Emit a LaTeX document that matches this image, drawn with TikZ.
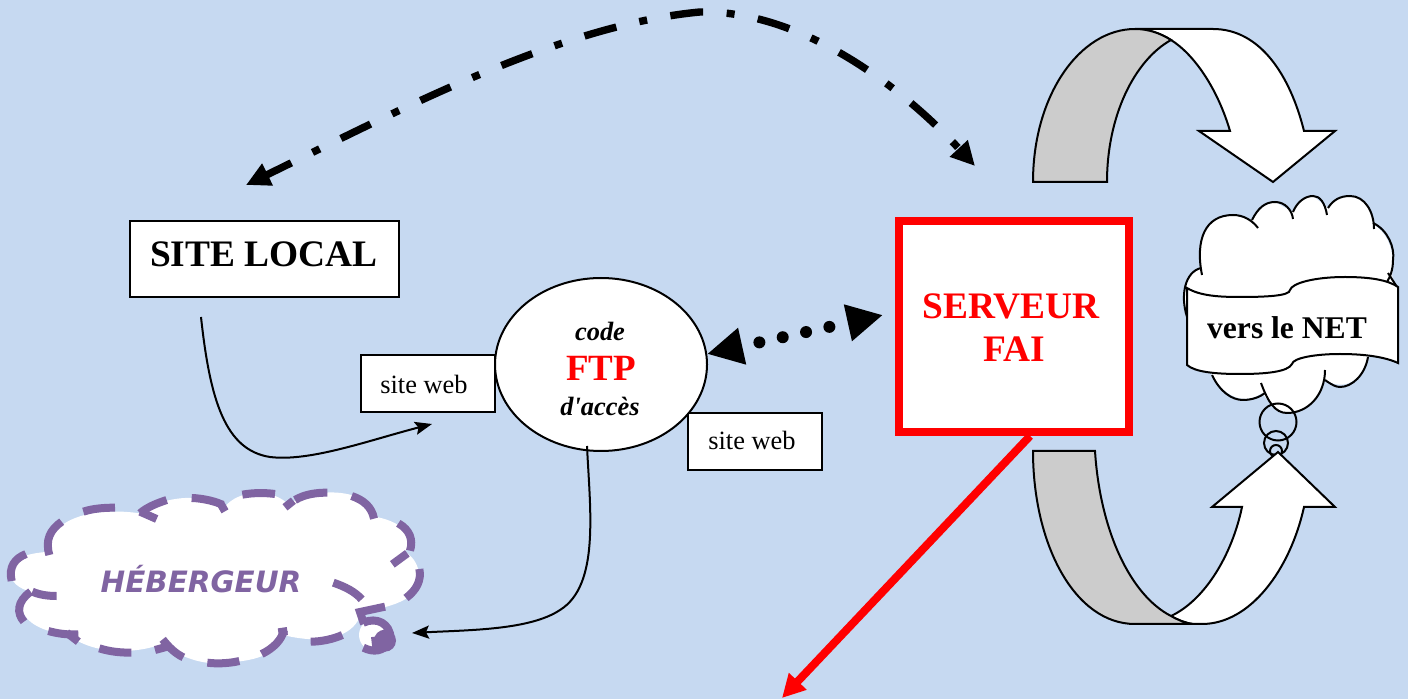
\documentclass[tikz,border=0pt]{standalone}
\usepackage{fontspec}
\setmainfont{Liberation Serif}
\newfontfamily\hebfont{DejaVu Sans}
\usetikzlibrary{arrows.meta,shapes.geometric}
\definecolor{bgblue}{HTML}{C6D9F1}
\definecolor{purp}{HTML}{8064A2}
\definecolor{greyfold}{HTML}{CCCCCC}
\newcommand{\fs}[1]{\fontsize{#1}{#1}\selectfont}
\tikzset{
  wbox/.style={draw=black,fill=white,line width=1pt,inner sep=0pt},
  thinline/.style={line width=1pt,black},
  smallhead/.style={-{Stealth[length=8.5pt,width=6.5pt,inset=1.5pt]}},
  ribbon/.style={draw=black,line width=1pt,line join=miter},
  hd/.style={draw=purp,line width=4pt},
}
\begin{document}
\begin{tikzpicture}[x=0.5pt,y=-0.5pt]
\useasboundingbox (0,0) rectangle (1408,699);
\fill[bgblue] (0,0) rectangle (1408,699);

% --- top curved arrow
\draw[ribbon,fill=white] (1135,29) -- (1213,29) .. controls (1260,29) and (1290,75) .. (1304,131) -- (1335,131) -- (1273,182) -- (1199,131) -- (1230,131) .. controls (1218,90) and (1195,55) .. (1171,40) .. controls (1160,33) and (1148,29) .. (1135,29) -- cycle;
\draw[ribbon,fill=greyfold] (1033,182) .. controls (1033,95) and (1080,29) .. (1135,29) .. controls (1148,29) and (1160,33) .. (1171,40) .. controls (1135,60) and (1107,115) .. (1107,182) -- cycle;

% --- thought cloud
\path[fill=white] (1202,275) .. controls (1195,240) and (1205,215) .. (1233,215) -- (1252,220) .. controls (1258,208) and (1265,202) .. (1275,202) -- (1293,212) .. controls (1297,202) and (1305,196) .. (1313,196) -- (1328,208) .. controls (1333,200) and (1340,196) .. (1350,196) .. controls (1365,196) and (1374,212) .. (1374,225) .. controls (1390,235) and (1395,255) .. (1392,275) -- (1398,300) -- (1368,357) .. controls (1362,380) and (1345,392) .. (1325,380) .. controls (1318,405) and (1300,415) .. (1287,413) .. controls (1275,412) and (1268,400) .. (1262,393) .. controls (1245,405) and (1225,398) .. (1212,375) -- (1187,320) .. controls (1180,300) and (1183,275) .. (1201,268) -- cycle;
\draw[ribbon] (1202,275) .. controls (1195,240) and (1205,215) .. (1233,215) .. controls (1243,215) and (1252,220) .. (1258,228);
\draw[ribbon] (1252,220) .. controls (1258,208) and (1265,202) .. (1275,202) .. controls (1285,202) and (1292,210) .. (1293,219);
\draw[ribbon] (1293,212) .. controls (1297,202) and (1305,196) .. (1313,196) .. controls (1320,196) and (1325,203) .. (1327,215);
\draw[ribbon] (1328,208) .. controls (1333,200) and (1340,196) .. (1350,196) .. controls (1365,196) and (1374,212) .. (1374,229);
\draw[ribbon] (1373,223) .. controls (1388,230) and (1395,248) .. (1393,260) .. controls (1393,270) and (1390,277) .. (1387,282);
\draw[ribbon] (1388,273) -- (1397,287);
\draw[ribbon] (1201,268) .. controls (1185,272) and (1180,295) .. (1187,317);
\draw[ribbon] (1212,375) .. controls (1220,392) and (1232,400) .. (1243,400) .. controls (1252,400) and (1260,397) .. (1265,393);
\draw[ribbon] (1261,383) .. controls (1268,402) and (1275,413) .. (1287,413) .. controls (1308,413) and (1325,395) .. (1325,370);
\draw[ribbon] (1325,380) .. controls (1332,385) and (1336,387) .. (1340,387) .. controls (1352,387) and (1365,375) .. (1368,357);
\draw[thinline] (1278,422) circle (18.5);
\draw[thinline] (1276,443) circle (12);
\draw[thinline] (1276,451) circle (6);
% scroll banner
\draw[ribbon,fill=white] (1187,288) .. controls (1200,296) and (1220,297) .. (1240,297) .. controls (1265,297) and (1290,296) .. (1290,290) .. controls (1292,283) and (1315,277) .. (1345,277) .. controls (1370,277) and (1388,280) .. (1398,287) -- (1398,363) .. controls (1385,357) and (1365,354) .. (1340,354) .. controls (1315,354) and (1293,358) .. (1292,364) .. controls (1288,372) and (1265,374) .. (1240,374) .. controls (1215,374) and (1195,372) .. (1187,365) -- cycle;
\node (net) at (1287,328) {\fs{15.8}\bfseries vers le NET};

% --- bottom curved arrow
\draw[ribbon,fill=white] (1135,624) -- (1202,624) .. controls (1250,624) and (1290,570) .. (1304,507) -- (1335,507) -- (1278,452) -- (1212,507) -- (1242,507) .. controls (1232,555) and (1205,600) .. (1171,616) .. controls (1178,620) and (1185,623) .. (1193,624);
\draw[ribbon,fill=greyfold] (1033,451) -- (1095,451) .. controls (1100,530) and (1130,595) .. (1171,616) .. controls (1178,620) and (1185,623) .. (1193,624) -- (1135,624) .. controls (1075,624) and (1033,545) .. (1033,451) -- cycle;

% --- hebergeur cloud
\begin{scope}[yshift=-235pt,x=0.16667pt,y=-0.16667pt]
\fill[white] (150,245) .. controls (135,170) and (240,105) .. (420,130) .. controls (470,85) and (610,60) .. (670,115) .. controls (720,50) and (830,60) .. (865,105) .. controls (930,50) and (1110,50) .. (1125,140) .. controls (1230,160) and (1240,215) .. (1215,245) .. controls (1270,280) and (1270,350) .. (1220,385) .. controls (1180,410) and (1120,420) .. (1080,425) -- (1075,450) .. controls (1040,510) and (950,520) .. (850,495) .. controls (830,570) and (720,580) .. (620,578) .. controls (560,570) and (510,540) .. (490,520) .. controls (420,550) and (280,560) .. (200,490) .. controls (140,490) and (70,460) .. (65,410) .. controls (62,395) and (70,375) .. (90,365) .. controls (60,355) and (30,340) .. (30,300) .. controls (30,270) and (70,250) .. (150,245) -- cycle;
\fill[white] (1125,495) circle (48);
\draw[hd] (35,333) .. controls (25,290) and (45,265) .. (78,252);
\draw[hd] (148,255) .. controls (135,210) and (150,180) .. (185,155);
\draw[hd] (250,125) .. controls (280,115) and (315,113) .. (345,113);
\draw[hd] (500,90) .. controls (470,100) and (440,112) .. (420,130);
\draw[hd] (420,125) -- (470,147);
\draw[hd] (575,84) .. controls (610,85) and (650,95) .. (668,105);
\draw[hd] (660,98) -- (675,124);
\draw[hd] (727,74) .. controls (760,68) and (795,68) .. (825,72);
\draw[hd] (855,112) -- (880,92);
\draw[hd] (885,90) .. controls (915,72) and (950,68) .. (982,68);
\draw[hd] (1055,78) .. controls (1090,90) and (1115,110) .. (1122,146);
\draw[hd] (1195,160) .. controls (1230,180) and (1240,210) .. (1230,242);
\draw[hd] (1177,283) -- (1222,250);
\draw[hd] (1258,297) .. controls (1265,330) and (1250,360) .. (1218,384);
\draw[hd] (1000,338) .. controls (1035,350) and (1065,365) .. (1085,388);
\draw[hd] (1155,410) -- (1080,426) -- (1092,462);
\draw[hd] (1090,458) .. controls (1130,440) and (1170,460) .. (1172,505);
\draw[hd] (1090,533) .. controls (1120,548) and (1150,545) .. (1170,515);
\draw[hd] (1125,500) -- (1130,542);
\fill[purp] (1155,512) circle (33);
\draw[hd] (932,515) .. controls (965,515) and (1000,507) .. (1027,495);
\draw[hd] (785,552) .. controls (820,535) and (845,510) .. (852,480);
\draw[hd] (835,487) -- (862,483);
\draw[hd] (622,578) .. controls (650,582) and (690,580) .. (718,573);
\draw[hd] (550,562) .. controls (525,550) and (505,530) .. (488,508);
\draw[hd] (465,540) -- (502,530);
\draw[hd] (298,535) .. controls (330,545) and (360,548) .. (394,548);
\draw[hd] (145,483) .. controls (170,490) and (200,495) .. (235,493);
\draw[hd] (200,488) -- (235,515);
\draw[hd] (72,455) .. controls (50,430) and (50,395) .. (92,365);
\draw[hd] (97,365) .. controls (120,375) and (145,378) .. (170,378);
\end{scope}
\node[text=purp] (heb) at (201,579.5) {\fs{14.7}\hebfont\bfseries\itshape HÉBERGEUR};

% --- nodes
\node[wbox,minimum width=134.5pt,minimum height=38pt] (local) at (264.5,259) {};
\node at (264,254) {\fs{18.7}\bfseries SITE LOCAL};
\node[wbox,minimum width=67pt,minimum height=28.5pt] (web1) at (428,383.5) {};
\node at (424,384) {\fs{13.2}site web};
\node[wbox,minimum width=67pt,minimum height=28.5pt] (web2) at (755,441.5) {};
\node at (752,440) {\fs{13.2}site web};
\node[draw=black,fill=white,line width=1pt,ellipse,minimum width=106pt,minimum height=86.5pt,inner sep=0pt] (ftp) at (601,364.5) {};
\node at (600,331) {\fs{13.2}\bfseries\itshape code};
\node[text=red] at (601,368) {\fs{18.5}\bfseries FTP};
\node at (600,406) {\fs{13.2}\bfseries\itshape d\textquotesingle accès};
\node[draw=red,fill=white,line width=4pt,minimum width=115pt,minimum height=105.5pt,inner sep=0pt] (srv) at (1014,326.5) {};
\node[text=red] at (1011,306) {\fs{18.7}\bfseries SERVEUR};
\node[text=red] at (1014,349) {\fs{18.7}\bfseries FAI};

% --- connector ends
\coordinate (topL) at (246,185);
\coordinate (topR) at (975,166);
\coordinate (a1) at (201,317);
\coordinate (a2) at (432,424);
\coordinate (b1) at (587,446);
\coordinate (b2) at (412,633);
\coordinate (dotL) at (707,354);
\coordinate (dotR) at (883,315);
\coordinate (redS) at (1030,436);
\coordinate (redE) at (782,698);

% --- connectors
\draw[line width=3.7pt,dash pattern=on 16.5pt off 11.8pt on 4pt off 11.8pt,dash phase=2.5pt,
  {Triangle[length=12pt,width=11.5pt]}-{Triangle[length=12pt,width=11.5pt]}]
  (topL) .. controls (400,110) and (560,25) .. (700,12) .. controls (800,10) and (900,85) .. (topR);
\draw[line width=6pt,line cap=round,dash pattern=on 0pt off 11.95pt on 0pt off 11.95pt on 0pt off 11.95pt on 0pt off 11.95pt on 0pt off 80pt,dash phase=2pt,
  {Triangle[length=18pt,width=17.5pt]}-{Triangle[length=18pt,width=17.5pt]}]
  (dotL) -- (dotR);
\draw[thinline,smallhead] (a1) .. controls (210,400) and (225,450) .. (270,457) .. controls (310,462) and (370,440) .. (a2);
\draw[thinline,smallhead] (b1) .. controls (590,510) and (600,585) .. (560,610) .. controls (530,630) and (470,630) .. (b2);
\draw[red,line width=4pt,-{Triangle[length=11.5pt,width=11.5pt]}] (redS) -- (redE);
\end{tikzpicture}
\end{document}
